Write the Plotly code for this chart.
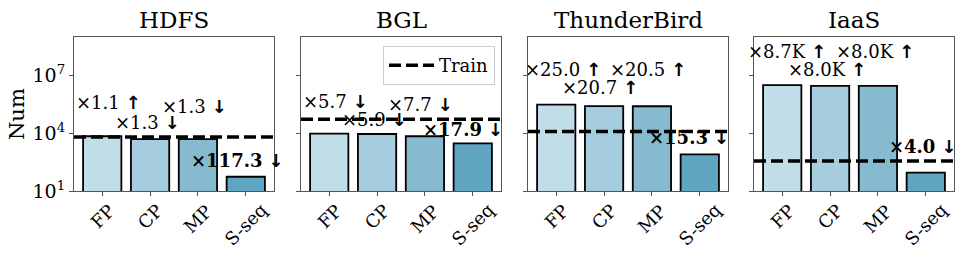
import plotly.graph_objects as go
import numpy as np

datasets = ["HDFS", "BGL", "ThunderBird", "IaaS"]
methods = ["FP", "CP", "MP", "S-seq"]
train_counts = [6450, 54000, 12300, 360]
hdfs_counts = [7000, 4960, 4960, 55]
bgl_counts = [9500, 9150, 7000, 3000]
thunderbird_counts = [307000, 255000, 252000, 800]
iaas_counts = [3130000, 2880000, 2880000, 90]
hdfs_ratio = ["×1.1 ↑", "×1.3 ↓", "×1.3 ↓", "×117.3 ↓"]
bgl_ratio = ["×5.7 ↓", "×5.9 ↓", "×7.7 ↓", "×17.9 ↓"]
thunderbird_ratio = ["×25.0 ↑", "×20.7 ↑", "×20.5 ↑", "×15.3 ↓"]
iaas_ratio = ["×8.7K ↑", "×8.0K ↑", "×8.0K ↑", "×4.0 ↓"]
y_tickvals = [1e1, 1e4, 1e7]
y_ticktext = ["10<sup>1</sup>", "10<sup>4</sup>", "10<sup>7</sup>"]

counts = [hdfs_counts, bgl_counts, thunderbird_counts, iaas_counts]
ratios = [hdfs_ratio, bgl_ratio, thunderbird_ratio, iaas_ratio]

# layout-only: label heights (log10) and pixel nudges for the ratio texts
label_y = [
    [5.58, 4.54, 5.375, 2.61],
    [5.65, 4.70, 5.48, 4.18],
    [7.30, 6.36, 7.30, 3.76],
    [8.24, 7.30, 8.24, 3.29],
]
label_dx = [
    [6, -3, -3, -9],
    [6, -3, -4, -10],
    [7, -4, -4, -11],
    [5, -3, -3, -3],
]

bar_colors = ["#c1dde7", "#a6cddd", "#85bacf", "#60a5c2"]
FONT = "DejaVu Serif"
ARROW_FONT = "DejaVu Sans"
W, H = 976, 261
L, R, T, B = 74, 22, 37, 70
pw = W - L - R
lefts = [74, 301, 528, 754]
panel_w = 200


def fmt_ratio(s, bold):
    body, arrow = s.rsplit(" ", 1)
    arrow_html = '<span style="font-family:%s"><b>%s</b></span>' % (ARROW_FONT, arrow)
    if bold:
        return "<b>" + body + "</b> " + arrow_html
    return body + " " + arrow_html


fig = go.Figure()
annotations = []
shapes = []
for k, name in enumerate(datasets):
    ax = "" if k == 0 else str(k + 1)
    xa, ya = "x" + ax, "y" + ax
    fig.add_trace(go.Bar(
        x=methods, y=counts[k], xaxis=xa, yaxis=ya, width=0.8,
        marker=dict(color=bar_colors, line=dict(color="black", width=1.8)),
        showlegend=False, hoverinfo="skip",
    ))
    d0 = (lefts[k] - L) / pw
    d1 = (lefts[k] + panel_w - L) / pw
    axis_common = dict(showline=True, mirror=True, linecolor="#555", linewidth=1,
                       ticks="outside", ticklen=4, tickcolor="#555", showgrid=False,
                       zeroline=False, automargin=False)
    fig.update_layout(**{
        "xaxis" + ax: dict(domain=[d0, d1], anchor=ya, type="category",
                           categoryorder="array", categoryarray=methods,
                           range=[-0.59, 3.59], showticklabels=False, **axis_common),
        "yaxis" + ax: dict(domain=[0, 1], anchor=xa, type="log", range=[1, 9],
                           tickvals=y_tickvals, ticktext=y_ticktext,
                           showticklabels=(k == 0),
                           tickfont=dict(family=FONT, size=19, color="black"),
                           **axis_common),
    })
    xref_dom = xa + " domain"
    yref_dom = ya + " domain"
    shapes.append(dict(type="line", xref=xref_dom, x0=0, x1=1, yref=ya,
                       y0=train_counts[k], y1=train_counts[k],
                       line=dict(color="black", width=3.5, dash="12px,5px"),
                       layer="above", name="Train", showlegend=(k == 1)))
    annotations.append(dict(text=name, xref=xref_dom, x=0.5, yref=yref_dom, y=1,
                            yanchor="bottom", yshift=2, showarrow=False,
                            font=dict(family=FONT, size=23, color="black")))
    for i, m in enumerate(methods):
        annotations.append(dict(text=fmt_ratio(ratios[k][i], i == 3), xref=xa, x=m,
                                yref=ya, y=label_y[k][i], xshift=label_dx[k][i],
                                showarrow=False, yanchor="middle",
                                font=dict(family=FONT, size=18, color="black")))
        annotations.append(dict(text=m, xref=xa, x=m, yref=yref_dom, y=0,
                                yanchor="top", yshift=-6, textangle=-45,
                                showarrow=False,
                                font=dict(family=FONT, size=18, color="black")))

annotations.append(dict(text="Num", xref="paper", x=0, xshift=-57, xanchor="center",
                        yref="paper", y=0.5, yanchor="middle", textangle=-90,
                        showarrow=False, font=dict(family=FONT, size=21, color="black")))

fig.update_layout(
    template="none",
    width=W, height=H,
    margin=dict(l=L, r=R, t=T, b=B, autoexpand=False),
    plot_bgcolor="white", paper_bgcolor="white",
    annotations=annotations, shapes=shapes,
    showlegend=True, hovermode=False,
    legend=dict(x=(383 - L) / pw, y=(191 - 46) / 154, xanchor="left", yanchor="top",
                bgcolor="white", bordercolor="#cccccc", borderwidth=1,
                itemwidth=45,
                font=dict(family=FONT, size=18, color="black")),
)

fig.write_html("out.html", config={"displayModeBar": False},
               post_script="document.body.style.margin='0';")
